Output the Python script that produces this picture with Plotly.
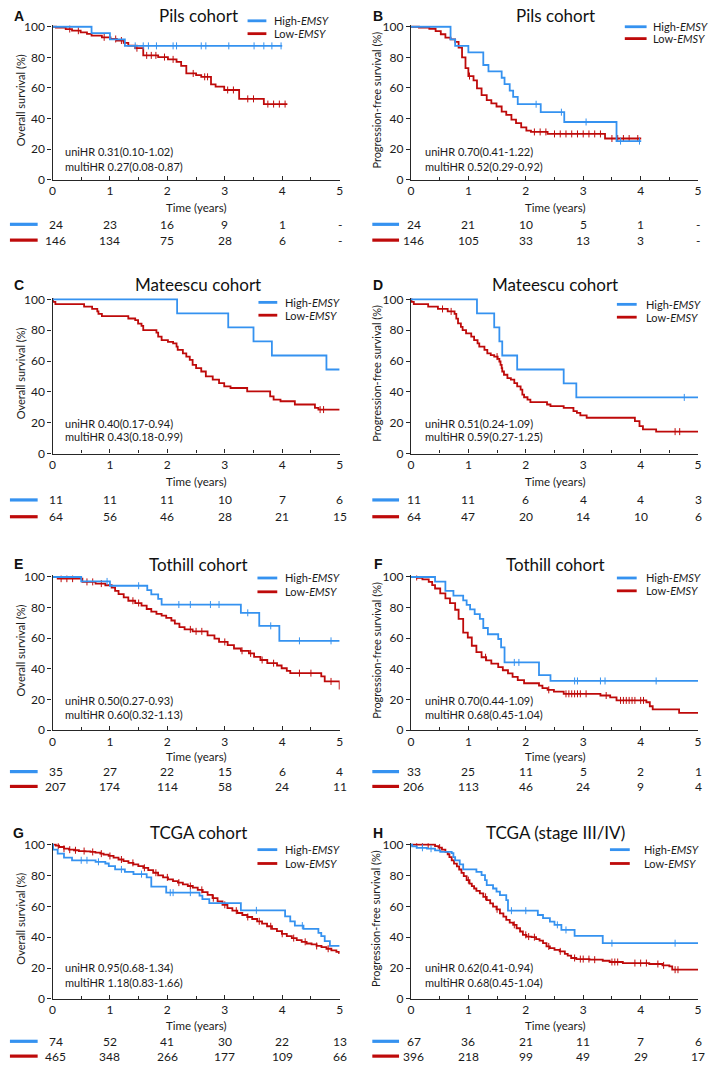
import plotly.graph_objects as go

W, H = 709, 1073
BLUE = "#3592F0"
RED = "#BE0A0A"
AXC = "#262626"
FONT = "Lato"

# ---------------- data: time (years), survival (%) ----------------
# Panel A  (Pils, OS)
A_hi_t = [0, 0.68, 1.0, 1.26]
A_hi_s = [100, 95.8, 91.7, 87.5]
A_hi_end = 4.0
A_hi_cens = [1.44, 1.58, 1.67, 1.81, 2.1, 2.16, 2.59, 2.67, 3.07, 3.51, 3.68, 3.82, 3.98]
A_lo_t = [0, 0.06, 0.23, 0.34, 0.49, 0.6, 0.68, 0.86, 1.01, 1.12, 1.24, 1.32, 1.44, 1.58, 1.84,
          2.01, 2.16, 2.24, 2.33, 2.5, 2.59, 2.76, 2.84, 2.99, 3.25, 3.68]
A_lo_s = [100, 99.4, 98.5, 97.4, 96.3, 95.3, 94.2, 93.1, 92.0, 91.0, 89.5, 87.7, 86.0, 81.3, 80.2,
          78.7, 77.0, 74.4, 69.5, 68.4, 67.3, 62.4, 60.9, 58.7, 52.9, 49.5]
A_lo_end = 4.09
A_lo_cens = [0.3, 0.45, 0.9, 1.1, 1.2, 1.47, 1.64, 1.72, 1.8, 1.95, 2.1, 2.45, 2.65, 2.7, 3.05,
             3.15, 3.4, 3.5, 3.75, 3.85, 3.95, 4.05]

# Panel B  (Pils, PFS)
B_hi_t = [0, 0.69, 0.77, 1.0, 1.26, 1.35, 1.58, 1.63, 1.72, 1.78, 1.86, 2.26, 2.67, 3.58]
B_hi_s = [100, 91.7, 87.5, 83.3, 75.0, 70.8, 66.7, 62.5, 58.3, 54.2, 49.4, 44.2, 37.8, 25.3]
B_hi_end = 4.01
B_hi_cens = [2.18, 2.62, 3.05, 3.65, 3.98]
B_lo_t = [0, 0.14, 0.32, 0.43, 0.52, 0.6, 0.69, 0.77, 0.83, 0.89, 0.95, 1.0, 1.09, 1.15, 1.23,
          1.32, 1.4, 1.49, 1.58, 1.66, 1.75, 1.83, 1.92, 2.01, 2.09, 2.38, 3.38]
B_lo_s = [100, 99.4, 98.7, 97.2, 95.1, 92.9, 91.8, 90.1, 86.3, 80.0, 73.0, 67.8, 65.0, 59.7, 55.4,
          52.1, 50.0, 47.9, 44.6, 42.5, 39.3, 37.1, 34.3, 32.2, 31.3, 30.0, 27.0]
B_lo_end = 4.01
B_lo_cens = [1.02, 2.15, 2.25, 2.35, 2.5, 2.6, 2.7, 2.8, 2.9, 3.0, 3.1, 3.2, 3.3, 3.5, 3.6, 3.7,
             3.8, 3.95]

# Panel C  (Mateescu, OS)
C_hi_t = [0, 2.17, 3.06, 3.5, 3.82, 4.77]
C_hi_s = [100, 90.9, 81.8, 72.7, 63.6, 54.5]
C_hi_end = 5.0
C_hi_cens = []
C_lo_t = [0, 0.01, 0.05, 0.55, 0.69, 0.78, 0.8, 0.86, 1.32, 1.44, 1.49, 1.55, 1.58, 1.81, 1.84,
          1.9, 2.01, 2.1, 2.16, 2.18, 2.27, 2.33, 2.39, 2.44, 2.5, 2.59, 2.67, 2.79, 2.9, 2.99,
          3.1, 3.39, 3.79, 3.85, 3.97, 4.22, 4.57, 4.63]
C_lo_s = [100, 98.4, 96.9, 95.3, 93.8, 92.2, 90.6, 89.1, 87.6, 86.5, 84.3, 82.8, 80.0, 78.5, 75.8,
          73.6, 72.5, 71.5, 69.3, 67.2, 65.0, 62.9, 60.7, 57.5, 55.4, 53.2, 50.0, 47.9, 45.7, 43.6,
          42.5, 40.3, 37.1, 35.0, 33.9, 31.8, 29.6, 28.5]
C_lo_end = 5.0
C_lo_cens = [4.66, 4.72]

# Panel D  (Mateescu, PFS)
D_hi_t = [0, 1.15, 1.45, 1.54, 1.59, 1.85, 2.66, 2.88]
D_hi_s = [100, 90.9, 81.8, 72.7, 63.6, 54.5, 45.5, 36.4]
D_hi_end = 5.0
D_hi_cens = [4.76]
D_lo_t = [0, 0.01, 0.05, 0.3, 0.47, 0.64, 0.76, 0.79, 0.82, 0.87, 0.9, 0.96, 1.05, 1.1, 1.16,
          1.19, 1.28, 1.33, 1.39, 1.45, 1.51, 1.54, 1.56, 1.58, 1.59, 1.62, 1.68, 1.74, 1.8,
          1.85, 1.91, 1.94, 1.97, 2.03, 2.08, 2.37, 2.43, 2.66, 2.83, 2.89, 2.95, 3.06, 3.9,
          3.98, 4.04, 4.27]
D_lo_s = [100, 98.4, 96.9, 95.3, 93.8, 92.2, 90.6, 87.5, 84.4, 82.2, 80.0, 77.9, 75.8, 73.6, 71.5,
          69.3, 67.2, 65.0, 63.9, 62.9, 61.4, 59.7, 57.5, 55.4, 53.2, 51.1, 48.9, 47.9, 45.7,
          43.6, 41.4, 38.2, 36.5, 35.0, 33.3, 31.8, 30.7, 29.6, 27.5, 26.4, 24.7, 23.2, 21.0,
          17.8, 15.7, 14.2]
D_lo_end = 5.0
D_lo_cens = [0.55, 0.7, 1.5, 4.6, 4.68]

# Panel E  (Tothill, OS)
E_hi_t = [0, 0.5, 1.0, 1.65, 1.72, 1.84, 1.9, 3.28, 3.6, 3.95]
E_hi_s = [100, 97.1, 94.3, 91.4, 88.6, 85.7, 82.0, 76.6, 68.1, 58.3]
E_hi_end = 5.0
E_hi_cens = [0.95, 1.5, 2.2, 2.4, 2.75, 2.9, 3.4, 3.8, 4.3, 4.85]
E_lo_t = [0, 0.09, 0.52, 0.75, 0.92, 1.03, 1.09, 1.15, 1.24, 1.32, 1.44, 1.55, 1.64, 1.72, 1.81,
          1.9, 1.98, 2.07, 2.13, 2.21, 2.3, 2.44, 2.7, 2.82, 2.9, 3.05, 3.16, 3.28, 3.42, 3.51,
          3.62, 3.74, 3.91, 3.99, 4.08, 4.14, 4.68, 4.74, 5.0]
E_lo_s = [100, 98.9, 96.8, 95.7, 94.6, 93.1, 90.9, 88.8, 86.7, 84.5, 83.0, 81.3, 79.1, 77.4, 75.9,
          74.8, 73.3, 71.6, 69.5, 67.3, 65.8, 64.5, 61.9, 59.8, 57.6, 55.5, 53.3, 51.8, 50.1, 47.9,
          45.8, 43.7, 42.2, 40.4, 38.7, 37.2, 35.1, 31.8, 26.5]
E_lo_end = 5.0
E_lo_cens = [0.15, 0.25, 0.35, 0.6, 0.7, 0.85, 1.4, 1.5, 2.4, 2.5, 2.6, 3.0, 3.3, 3.45, 3.65,
             3.85, 4.3, 4.5, 4.85]

# Panel F  (Tothill, PFS)
F_hi_t = [0, 0.42, 0.6, 0.74, 0.91, 0.97, 1.03, 1.11, 1.2, 1.26, 1.34, 1.52, 1.57, 1.63, 2.23, 2.43]
F_hi_s = [100, 97.0, 90.9, 87.9, 84.8, 81.8, 78.8, 75.8, 72.7, 66.7, 62.6, 59.5, 54.0, 44.2, 35.9, 32.1]
F_hi_end = 5.0
F_hi_cens = [1.8, 1.88, 2.85, 2.9, 3.3, 3.38, 4.27]
F_lo_t = [0, 0.11, 0.2, 0.31, 0.37, 0.42, 0.51, 0.6, 0.68, 0.77, 0.83, 0.91, 0.99, 1.06, 1.14,
          1.23, 1.31, 1.4, 1.52, 1.6, 1.69, 1.77, 1.86, 1.97, 2.23, 2.29, 2.38, 2.49, 2.66, 3.3,
          3.47, 3.58, 4.1, 4.16, 4.21, 4.67]
F_lo_s = [100, 99.4, 98.5, 96.8, 94.7, 92.5, 89.3, 86.1, 82.9, 78.6, 72.6, 63.7, 60.5, 55.1, 50.9,
          47.6, 45.5, 43.4, 41.2, 39.1, 37.0, 34.8, 32.7, 30.6, 29.1, 27.4, 26.3, 25.2, 23.7, 22.6,
          21.4, 19.4, 18.2, 15.6, 13.5, 11.3]
F_lo_end = 5.0
F_lo_cens = [0.1, 1.3, 2.4, 2.7, 2.75, 2.8, 2.85, 2.9, 2.95, 3.05, 3.4, 3.65, 3.7, 3.75, 3.8,
             3.85, 3.9, 4.0, 4.05]

# Panel G  (TCGA, OS)
G_hi_t = [0, 0.01, 0.09, 0.2, 0.34, 0.75, 0.92, 0.98, 1.09, 1.26, 1.41, 1.64, 1.72, 1.98, 2.56,
          2.61, 2.73, 3.28, 4.05, 4.14, 4.22, 4.37, 4.63, 4.68, 4.74, 4.83]
G_hi_s = [100, 96.8, 94.2, 91.6, 89.9, 88.9, 87.8, 86.1, 84.0, 82.4, 80.9, 78.8, 72.8, 68.9, 67.0,
          64.7, 62.1, 57.4, 53.5, 50.3, 47.5, 45.4, 42.8, 40.7, 37.5, 34.3]
G_hi_end = 5.0
G_hi_cens = [0.5, 0.6, 0.8, 1.2, 1.55, 2.05, 2.1, 2.4, 3.55, 4.35]
G_lo_t = [0, 0.057, 0.115, 0.2, 0.287, 0.374, 0.46, 0.575, 0.66, 0.747, 0.833, 0.89, 0.977, 1.063,
          1.149, 1.236, 1.322, 1.408, 1.494, 1.58, 1.667, 1.753, 1.839, 1.925, 2.011, 2.098, 2.184,
          2.27, 2.356, 2.443, 2.529, 2.615, 2.701, 2.787, 2.874, 2.96, 3.046, 3.132, 3.218, 3.305,
          3.391, 3.477, 3.563, 3.649, 3.736, 3.822, 3.908, 3.994, 4.08, 4.167, 4.253, 4.339, 4.425,
          4.511, 4.598, 4.684, 4.77, 4.856, 4.943, 4.99]
G_lo_s = [100, 99.4, 98.5, 97.4, 96.8, 96.4, 95.9, 95.7, 95.3, 94.9, 94.2, 93.6, 92.7, 91.6,
          90.4, 89.3, 88.2, 87.2, 86.1, 85.0, 83.5, 81.8, 80.1, 78.8, 77.5, 76.4, 75.4,
          74.3, 73.2, 72.2, 70.7, 69.2, 67.5, 65.3, 63.2, 61.0, 58.9, 57.2, 55.7, 54.4,
          53.1, 51.8, 50.3, 48.8, 47.1, 45.4, 43.9, 42.2, 40.7, 39.4, 38.1, 37.0, 35.9,
          35.3, 34.3, 33.6, 32.5, 31.5, 30.4, 29.6]
G_lo_end = 5.0
G_lo_cens = [0.1, 0.2, 0.3, 0.4, 0.55, 0.7, 0.85, 1.0, 1.2, 1.4, 1.6, 1.8, 2.0, 2.2, 2.4, 2.6,
             2.8, 3.0, 3.2, 3.4, 3.6, 3.8, 4.0, 4.2, 4.4, 4.6, 4.8]

# Panel H  (TCGA stage III/IV, PFS)
H_hi_t = [0, 0.02, 0.1, 0.28, 0.42, 0.51, 0.71, 0.74, 0.77, 0.85, 0.91, 1.14, 1.23, 1.29, 1.32,
          1.43, 1.49, 1.55, 1.66, 1.69, 2.21, 2.3, 2.42, 2.5, 2.62, 2.85, 3.34]
H_hi_s = [100, 98.9, 98.0, 97.4, 96.3, 95.3, 94.6, 92.0, 89.9, 87.3, 84.0, 82.4, 80.2, 77.0, 73.8,
          71.6, 69.5, 67.3, 64.1, 57.2, 54.4, 52.3, 50.1, 48.0, 44.7, 40.9, 36.1]
H_hi_end = 5.0
H_hi_cens = [0.2, 0.35, 1.75, 2.0, 2.55, 2.7, 3.5, 4.6]
H_lo_t = [0, 0.42, 0.48, 0.54, 0.6, 0.64, 0.67, 0.71, 0.75, 0.8, 0.84, 0.88, 0.92, 0.97, 1.02,
          1.06, 1.1, 1.14, 1.2, 1.26, 1.32, 1.38, 1.43, 1.49, 1.55, 1.61, 1.66, 1.72, 1.78, 1.84,
          1.9, 1.95, 2.01, 2.1, 2.18, 2.24, 2.3, 2.36, 2.42, 2.5, 2.59, 2.68, 2.73, 2.79, 2.88,
          3.11, 3.34, 3.46, 3.69, 4.15, 4.38, 4.5, 4.55]
H_lo_s = [100, 99.1, 98.1, 96.8, 95.3, 93.8, 92.0, 89.9, 87.7, 86.0, 83.9, 81.7, 79.6, 77.0, 74.8,
          73.1, 71.6, 70.1, 68.4, 66.2, 64.1, 61.9, 59.8, 58.1, 55.5, 53.3, 51.2, 49.5, 48.0, 45.8,
          43.7, 41.5, 40.4, 40.0, 38.7, 37.8, 36.1, 34.0, 32.9, 31.8, 30.8, 29.2, 28.0, 26.5, 25.8,
          25.4, 24.7, 23.9, 23.2, 22.6, 21.7, 21.1, 18.9]
H_lo_end = 5.0
H_lo_cens = [0.1, 0.2, 0.3, 0.5, 1.0, 1.3, 1.5, 1.8, 2.0, 2.05, 2.15, 2.4, 2.6, 2.85, 2.95, 3.0,
             3.1, 3.2, 3.5, 3.55, 3.6, 3.9, 4.0, 4.1, 4.3, 4.4, 4.6, 4.65]

# ---------------- text ----------------
risk_times = [0, 1, 2, 3, 4, 5]
A_risk_hi = ["24", "23", "16", "9", "1", "-"]
A_risk_lo = ["146", "134", "75", "28", "6", "-"]
B_risk_hi = ["24", "21", "10", "5", "1", "-"]
B_risk_lo = ["146", "105", "33", "13", "3", "-"]
C_risk_hi = ["11", "11", "11", "10", "7", "6"]
C_risk_lo = ["64", "56", "46", "28", "21", "15"]
D_risk_hi = ["11", "11", "6", "4", "4", "3"]
D_risk_lo = ["64", "47", "20", "14", "10", "6"]
E_risk_hi = ["35", "27", "22", "15", "6", "4"]
E_risk_lo = ["207", "174", "114", "58", "24", "11"]
F_risk_hi = ["33", "25", "11", "5", "2", "1"]
F_risk_lo = ["206", "113", "46", "24", "9", "4"]
G_risk_hi = ["74", "52", "41", "30", "22", "13"]
G_risk_lo = ["465", "348", "266", "177", "109", "66"]
H_risk_hi = ["67", "36", "21", "11", "7", "6"]
H_risk_lo = ["396", "218", "99", "49", "29", "17"]

titles = ["Pils cohort", "Pils cohort", "Mateescu cohort", "Mateescu cohort",
          "Tothill cohort", "Tothill cohort", "TCGA cohort", "TCGA (stage III/IV)"]
letters = ["A", "B", "C", "D", "E", "F", "G", "H"]
uni_hr = ["uniHR 0.31(0.10-1.02)", "uniHR 0.70(0.41-1.22)", "uniHR 0.40(0.17-0.94)",
          "uniHR 0.51(0.24-1.09)", "uniHR 0.50(0.27-0.93)", "uniHR 0.70(0.44-1.09)",
          "uniHR 0.95(0.68-1.34)", "uniHR 0.62(0.41-0.94)"]
multi_hr = ["multiHR 0.27(0.08-0.87)", "multiHR 0.52(0.29-0.92)", "multiHR 0.43(0.18-0.99)",
            "multiHR 0.59(0.27-1.25)", "multiHR 0.60(0.32-1.13)", "multiHR 0.68(0.45-1.04)",
            "multiHR 1.18(0.83-1.66)", "multiHR 0.68(0.45-1.04)"]
y_titles = ["Overall survival (%)", "Progression-free survival (%)"] * 4
legend_labels = ["High-<i>EMSY</i>", "Low-<i>EMSY</i>"]
x_title = "Time (years)"
x_ticks = [0, 1, 2, 3, 4, 5]
y_ticks = [0, 20, 40, 60, 80, 100]

# ---------------- assemble ----------------
g = globals()
panels = []
for L in letters:
    panels.append(dict(
        hi=(g[L + "_hi_t"], g[L + "_hi_s"], g[L + "_hi_end"], g[L + "_hi_cens"]),
        lo=(g[L + "_lo_t"], g[L + "_lo_s"], g[L + "_lo_end"], g[L + "_lo_cens"]),
        rhi=g[L + "_risk_hi"], rlo=g[L + "_risk_lo"]))

# layout geometry (pixels)
col_x = [(50, 340), (412, 702)]
rows = [
    dict(y0=176, y100=21, ty=10, hr1=147, hr2=162, xl=204, r1=221, r2=237),
    dict(y0=453, y100=297, ty=282, hr1=423, hr2=436, xl=481, r1=500, r2=517),
    dict(y0=733, y100=578, ty=565, hr1=703, hr2=717, xl=760, r1=775, r2=790),
    dict(y0=1005, y100=849, ty=837, hr1=973, hr2=988, xl=1032, r1=1048, r2=1063),
]
# legend placement per panel: (line x0, line x1, text x, y high, y low)
legend_pos = [(247, 266, 272, 15, 28), (628, 650, 654, 21, 33),
              (258, 277, 283, 300, 313), (620, 640, 647, 302, 315),
              (257, 277, 283, 579, 593), (620, 640, 647, 579, 592),
              (257, 277, 283, 854, 868), (613, 633, 645, 854, 868)]
title_cx = [197, 558]
letter_x = [16, 379]
hr_x = [61, 424]
ytitle_x = [18, 377]
risk_line = [(7, 35), (373, 400)]

YMAX = 101.0


def px(x):
    return x / W


def py(y):
    return 1 - y / H


def step_at(ts, ss, c):
    v = ss[0]
    for t, s in zip(ts, ss):
        if t <= c:
            v = s
    return v


fig = go.Figure()
layout = dict(width=W, height=H, margin=dict(l=0, r=0, t=0, b=0),
              paper_bgcolor="white", plot_bgcolor="white", showlegend=False,
              font=dict(family=FONT, color="#1a1a1a", size=11))
annotations = []
shapes = []

for i, p in enumerate(panels):
    k = i + 1
    col = i % 2
    row = rows[i // 2]
    xa = "x" if k == 1 else f"x{k}"
    ya = "y" if k == 1 else f"y{k}"
    x0p, x1p = col_x[col]
    unit = (row["y0"] - row["y100"]) / 100.0
    ytop = row["y0"] - unit * YMAX
    layout["xaxis" if k == 1 else f"xaxis{k}"] = dict(
        domain=[px(x0p), px(x1p)], range=[0, 5], anchor=ya,
        tickvals=x_ticks, ticks="inside", ticklen=4, tickwidth=1, tickcolor=AXC,
        minor=dict(dtick=0.5, ticks="inside", ticklen=3, tickcolor=AXC),
        showline=True, linecolor=AXC, linewidth=1.3, showgrid=False, zeroline=False,
        tickfont=dict(size=12, family=FONT, color="#1a1a1a"), fixedrange=True)
    layout["yaxis" if k == 1 else f"yaxis{k}"] = dict(
        domain=[py(row["y0"]), py(ytop)], range=[0, YMAX], anchor=xa,
        tickvals=y_ticks, ticks="outside", ticklen=4, tickwidth=1, tickcolor=AXC,
        showline=True, linecolor=AXC, linewidth=1.3, showgrid=False, zeroline=False,
        tickfont=dict(size=12, family=FONT, color="#1a1a1a"), fixedrange=True)

    for key, color in (("lo", RED), ("hi", BLUE)):
        ts, ss, end, cens = p[key]
        xs = list(ts) + [end]
        ys = list(ss) + [ss[-1]]
        fig.add_trace(go.Scatter(x=xs, y=ys, mode="lines", line=dict(color=color, width=1.8, shape="hv"),
                                 xaxis=xa, yaxis=ya, hoverinfo="skip"))
        if cens:
            fig.add_trace(go.Scatter(x=cens, y=[step_at(ts, ss, c) for c in cens], mode="markers",
                                     marker=dict(symbol="line-ns", size=5, color=color,
                                                 line=dict(color=color, width=1)),
                                     xaxis=xa, yaxis=ya, hoverinfo="skip"))

    annotations.append(dict(x=px(letter_x[col]), y=py(row["ty"]), xref="paper", yref="paper",
                            text=f"<b>{letters[i]}</b>", showarrow=False, xanchor="center", yanchor="middle",
                            font=dict(family="Liberation Sans", size=14, color="#111")))
    annotations.append(dict(x=px(title_cx[col]), y=py(row["ty"]), xref="paper", yref="paper",
                            text=titles[i], showarrow=False, xanchor="center", yanchor="middle",
                            font=dict(family=FONT, size=17, color="#111")))
    lx0, lx1, ltx, ly1, ly2 = legend_pos[i]
    for (yy, lab, color) in ((ly1, legend_labels[0], BLUE), (ly2, legend_labels[1], RED)):
        shapes.append(dict(type="line", xref="paper", yref="paper", x0=px(lx0), x1=px(lx1),
                           y0=py(yy), y1=py(yy), line=dict(color=color, width=2.8)))
        annotations.append(dict(x=px(ltx), y=py(yy), xref="paper", yref="paper", text=lab,
                                showarrow=False, xanchor="left", yanchor="middle",
                                font=dict(family=FONT, size=11, color="#1a1a1a")))
    for yy, txt in ((row["hr1"], uni_hr[i]), (row["hr2"], multi_hr[i])):
        annotations.append(dict(x=px(hr_x[col]), y=py(yy), xref="paper", yref="paper", text=txt,
                                showarrow=False, xanchor="left", yanchor="middle",
                                font=dict(family=FONT, size=11, color="#1a1a1a")))
    annotations.append(dict(x=px(ytitle_x[col]), y=py((row["y0"] + row["y100"]) / 2 - 3), xref="paper",
                            yref="paper", text=y_titles[i], showarrow=False, textangle=-90,
                            xanchor="center", yanchor="middle",
                            font=dict(family=FONT, size=11, color="#1a1a1a")))
    annotations.append(dict(x=px((x0p + x1p) / 2), y=py(row["xl"]), xref="paper", yref="paper",
                            text=x_title, showarrow=False, xanchor="center", yanchor="middle",
                            font=dict(family=FONT, size=11.5, color="#1a1a1a")))
    rx0, rx1 = risk_line[col]
    for yy, vals, color in ((row["r1"], p["rhi"], BLUE), (row["r2"], p["rlo"], RED)):
        shapes.append(dict(type="line", xref="paper", yref="paper", x0=px(rx0), x1=px(rx1),
                           y0=py(yy), y1=py(yy), line=dict(color=color, width=3.2)))
        for t, v in zip(risk_times, vals):
            annotations.append(dict(x=t, y=py(yy), xref=xa, yref="paper", text=v, showarrow=False,
                                    xanchor="center", yanchor="middle", xshift=3 if t == 0 else 0,
                                    font=dict(family=FONT, size=12, color="#1a1a1a")))

layout["annotations"] = annotations
layout["shapes"] = shapes
fig.update_layout(**layout)
fig.write_html("out.html", config={"displayModeBar": False},
               post_script="document.body.style.margin='0';document.body.style.overflow='hidden';")
